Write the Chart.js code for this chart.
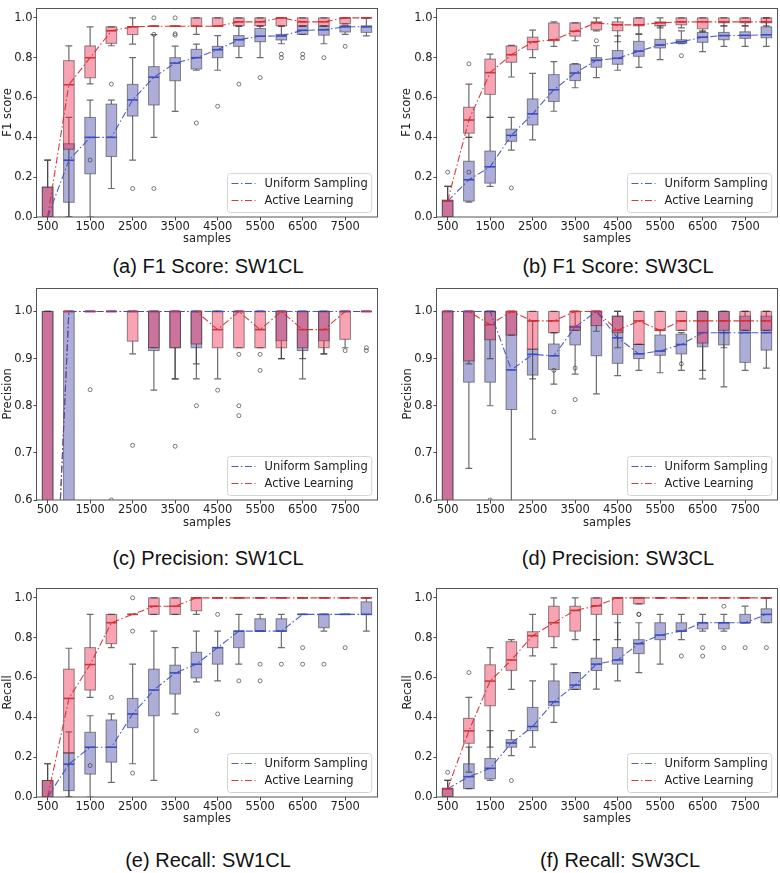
<!DOCTYPE html>
<html>
<head>
<meta charset="utf-8">
<script src="https://cdn.jsdelivr.net/npm/chart.js@4.4.1/dist/chart.umd.min.js"></script>
<style>
  body { margin: 0; background: #fff; width: 780px; height: 873px; position: relative; overflow: hidden; }
  canvas { position: absolute; }
  .caption {
    position: absolute;
    font-family: "Liberation Sans", Arial, sans-serif;
    font-size: 20px;
    line-height: 20px;
    white-space: nowrap;
    transform: translateX(-50%);
    color: #111;
  }
</style>
</head>
<body>
<canvas id="chart-a" width="390" height="250" style="left:0;top:0"></canvas>
<canvas id="chart-b" width="390" height="250" style="left:390px;top:0"></canvas>
<canvas id="chart-c" width="390" height="250" style="left:0;top:280px"></canvas>
<canvas id="chart-d" width="390" height="250" style="left:390px;top:280px"></canvas>
<canvas id="chart-e" width="390" height="250" style="left:0;top:580px"></canvas>
<canvas id="chart-f" width="390" height="250" style="left:390px;top:580px"></canvas>
<script>
// sample sizes (box positions) and labelled ticks
const samples = [500, 1000, 1500, 2000, 2500, 3000, 3500, 4000, 4500, 5000, 5500, 6000, 6500, 7000, 7500, 8000];
const xTickValues = [500, 1500, 2500, 3500, 4500, 5500, 6500, 7500];
const unitTicks = [0, 0.2, 0.4, 0.6, 0.8, 1.0];
const precisionTicks = [0.6, 0.7, 0.8, 0.9, 1.0];

// each row: [lower whisker, q1, median, q3, upper whisker]
// outliers: [sample, value]

// (a) F1 score, SW1CL
const f1Sw1Uniform = [
    [0, 0, 0, 0.15, 0.286], [0, 0.074, 0.285, 0.368, 0.5], [0, 0.217, 0.40, 0.50, 0.587], [0.143, 0.304, 0.40, 0.567, 0.587],
    [0.286, 0.507, 0.588, 0.666, 0.80], [0.40, 0.5625, 0.702, 0.755, 0.916], [0.53, 0.684, 0.773, 0.80, 0.858], [0.737, 0.743, 0.80, 0.842, 0.868],
    [0.737, 0.80, 0.84, 0.857, 0.911], [0.80, 0.857, 0.89, 0.911, 0.958], [0.80, 0.88, 0.908, 0.947, 0.96], [0.87, 0.889, 0.909, 0.917, 0.958],
    [0.917, 0.917, 0.9375, 0.958, 0.96], [0.87, 0.913, 0.94, 0.958, 0.96], [0.917, 0.929, 0.955, 0.96, 0.96], [0.91, 0.927, 0.955, 0.96, 1.0]
];
const f1Sw1UniformOut = [[1500, 0.286], [2000, 0.667], [2500, 0.143], [3000, 0.143], [4000, 0.472], [4500, 0.556], [5000, 0.667],
    [5500, 0.70], [6000, 0.80], [6000, 0.818], [6500, 0.80], [6500, 0.818], [7000, 0.80], [7500, 0.857]];
const f1Sw1Active = [
    [0, 0, 0, 0.15, 0.286], [0, 0.34, 0.664, 0.785, 0.859], [0.668, 0.699, 0.80, 0.859, 0.955], [0.86, 0.872, 0.935, 0.955, 0.955],
    [0.868, 0.916, 0.955, 0.955, 1.0], [0.958, 0.958, 0.958, 0.958, 0.958], [0.958, 0.958, 0.958, 0.958, 0.958], [0.917, 0.958, 0.958, 1.0, 1.0],
    [0.958, 0.958, 0.958, 1.0, 1.0], [0.958, 0.96, 0.98, 1.0, 1.0], [0.958, 0.96, 0.98, 1.0, 1.0], [0.958, 0.96, 1.0, 1.0, 1.0],
    [0.958, 0.96, 0.98, 1.0, 1.0], [0.958, 0.96, 0.98, 1.0, 1.0], [0.97, 0.97, 1.0, 1.0, 1.0], [1, 1, 1, 1, 1]
];
const f1Sw1ActiveOut = [[3000, 1.0], [3000, 0.917], [3500, 1.0], [3500, 0.92], [3500, 0.913]];

// (b) F1 score, SW3CL
const f1Sw3Uniform = [
    [0, 0, 0.08, 0.084, 0.154], [0.075, 0.08, 0.187, 0.28, 0.40], [0.154, 0.17, 0.252, 0.331, 0.50], [0.336, 0.38, 0.41, 0.441, 0.50],
    [0.387, 0.462, 0.518, 0.593, 0.721], [0.531, 0.58, 0.639, 0.715, 0.78], [0.649, 0.685, 0.723, 0.767, 0.77], [0.70, 0.752, 0.787, 0.80, 0.86],
    [0.737, 0.767, 0.797, 0.836, 0.91], [0.751, 0.807, 0.833, 0.882, 0.917], [0.79, 0.849, 0.864, 0.892, 0.96], [0.87, 0.872, 0.88, 0.89, 0.935],
    [0.83, 0.877, 0.903, 0.927, 0.935], [0.857, 0.89, 0.911, 0.927, 0.96], [0.857, 0.897, 0.912, 0.93, 0.96], [0.857, 0.90, 0.915, 0.955, 1.0]
];
const f1Sw3UniformOut = [[500, 0.225], [1000, 0.225], [2000, 0.146], [4000, 0.885], [6000, 0.81]];
const f1Sw3Active = [
    [0, 0, 0.08, 0.084, 0.154], [0.40, 0.421, 0.487, 0.551, 0.667], [0.50, 0.616, 0.725, 0.793, 0.818], [0.703, 0.777, 0.815, 0.859, 0.862],
    [0.80, 0.84, 0.879, 0.903, 0.938], [0.857, 0.885, 0.89, 0.974, 0.98], [0.885, 0.908, 0.933, 0.975, 0.975], [0.935, 0.94, 0.975, 0.98, 1.0],
    [0.88, 0.935, 0.965, 0.98, 1.0], [0.92, 0.96, 0.965, 1.0, 1.0], [0.95, 0.96, 0.975, 0.98, 1.0], [0.95, 0.965, 0.98, 1.0, 1.0],
    [0.93, 0.945, 0.98, 1.0, 1.0], [0.96, 0.975, 0.98, 1.0, 1.0], [0.96, 0.975, 0.98, 1.0, 1.0], [0.96, 0.975, 0.98, 1.0, 1.0]
];
const f1Sw3ActiveOut = [[1000, 0.769]];

// (c) precision, SW1CL
const precSw1Uniform = [
    [0, 0, 0, 1, 1], [0, 0.5, 1, 1, 1], [1, 1, 1, 1, 1], [1, 1, 1, 1, 1],
    [1, 1, 1, 1, 1], [0.833, 0.917, 1, 1, 1], [0.857, 0.923, 1, 1, 1], [0.857, 0.923, 1, 1, 1],
    [1, 1, 1, 1, 1], [1, 1, 1, 1, 1], [1, 1, 1, 1, 1], [0.90, 0.938, 1, 1, 1],
    [0.857, 0.917, 1, 1, 1], [0.91, 0.938, 1, 1, 1], [1, 1, 1, 1, 1], [1, 1, 1, 1, 1]
];
const precSw1UniformOut = [[2000, 0.6], [3500, 0.714], [4000, 0.80]];
const precSw1Active = [
    [0, 0, 0, 1, 1], [1, 1, 1, 1, 1], [1, 1, 1, 1, 1], [1, 1, 1, 1, 1],
    [0.91, 0.937, 1, 1, 1], [0.923, 0.923, 1, 1, 1], [0.857, 0.923, 1, 1, 1], [0.889, 0.931, 1, 1, 1],
    [0.857, 0.923, 0.9615, 1, 1], [0.923, 0.923, 1, 1, 1], [0.923, 0.923, 0.9615, 1, 1], [0.90, 0.923, 1, 1, 1],
    [0.90, 0.923, 0.9615, 1, 1], [0.91, 0.923, 0.9615, 1, 1], [0.923, 0.941, 1, 1, 1], [1, 1, 1, 1, 1]
];
const precSw1ActiveOut = [[1500, 0.834], [2500, 0.716], [4500, 0.833], [5000, 0.909], [5000, 0.80], [5000, 0.779],
    [5500, 0.909], [5500, 0.875], [7500, 0.917], [8000, 0.923], [8000, 0.917]];

// (d) precision, SW3CL
const precSw3Uniform = [
    [0, 0, 1, 1, 1], [0.667, 0.85, 1, 1, 1], [0.80, 0.85, 1, 1, 1], [0.5, 0.792, 0.876, 1, 1],
    [0.729, 0.865, 0.909, 0.92, 0.98], [0.846, 0.877, 0.906, 0.931, 0.955], [0.867, 0.929, 0.967, 0.969, 1.0], [0.825, 0.906, 1, 1, 1],
    [0.864, 0.89, 0.944, 0.99, 1.0], [0.875, 0.90, 0.91, 0.93, 0.93], [0.87, 0.907, 0.916, 0.95, 0.96], [0.875, 0.91, 0.93, 0.952, 0.955],
    [0.857, 0.925, 0.955, 1, 1], [0.84, 0.929, 0.955, 1, 1], [0.875, 0.892, 0.955, 0.99, 1], [0.88, 0.918, 0.955, 0.99, 1]
];
const precSw3UniformOut = [[1500, 0.6], [3000, 0.875], [3000, 0.787], [3500, 0.88], [3500, 0.813], [6000, 0.889]];
const precSw3Active = [
    [0, 0, 1, 1, 1], [0.889, 0.895, 1, 1, 1], [0.90, 0.94, 0.972, 1, 1], [0.95, 0.95, 1, 1, 1],
    [0.857, 0.92, 0.98, 1, 1], [0.955, 0.955, 0.98, 1, 1], [0.96, 0.96, 1, 1, 1], [0.958, 0.97, 1, 1, 1],
    [0.923, 0.955, 0.96, 0.99, 1], [0.93, 0.93, 0.98, 1, 1], [0.96, 0.96, 0.96, 1, 1], [0.96, 0.96, 0.98, 1, 1],
    [0.875, 0.933, 0.98, 1, 1], [0.923, 0.96, 0.98, 1, 1], [0.96, 0.96, 0.98, 1, 1], [0.96, 0.96, 0.98, 1, 1]
];
const precSw3ActiveOut = [];

// (e) recall, SW1CL
const recSw1Uniform = [
    [0, 0, 0, 0.083, 0.167], [0, 0.032, 0.165, 0.223, 0.327], [0, 0.115, 0.25, 0.325, 0.408], [0.073, 0.175, 0.25, 0.387, 0.417],
    [0.167, 0.348, 0.417, 0.495, 0.667], [0.083, 0.408, 0.537, 0.642, 0.833], [0.417, 0.517, 0.623, 0.662, 0.75], [0.578, 0.598, 0.667, 0.727, 0.833],
    [0.583, 0.667, 0.75, 0.75, 0.833], [0.667, 0.75, 0.833, 0.833, 0.917], [0.833, 0.833, 0.833, 0.895, 0.917], [0.75, 0.833, 0.833, 0.895, 0.917],
    [0.917, 0.917, 0.917, 0.917, 0.917], [0.833, 0.85, 0.917, 0.917, 0.917], [0.917, 0.917, 0.917, 0.917, 0.917], [0.833, 0.917, 0.917, 0.98, 1.0]
];
const recSw1UniformOut = [[1500, 0.158], [2000, 0.5], [2500, 0.12], [4000, 0.333], [4500, 0.917], [4500, 0.417], [5000, 0.583],
    [5500, 0.667], [5500, 0.583], [6000, 0.667], [6500, 0.75], [6500, 0.667], [7000, 0.667], [7500, 0.75]];
const recSw1Active = [
    [0, 0, 0, 0.083, 0.167], [0, 0.22, 0.495, 0.642, 0.747], [0.50, 0.537, 0.665, 0.75, 0.917], [0.75, 0.77, 0.875, 0.917, 0.917],
    [0.917, 0.917, 0.917, 0.917, 0.917], [0.917, 0.917, 0.958, 1.0, 1.0], [0.917, 0.917, 0.958, 1.0, 1.0], [0.917, 0.935, 1, 1, 1],
    [1, 1, 1, 1, 1], [1, 1, 1, 1, 1], [1, 1, 1, 1, 1], [1, 1, 1, 1, 1],
    [1, 1, 1, 1, 1], [1, 1, 1, 1, 1], [1, 1, 1, 1, 1], [1, 1, 1, 1, 1]
];
const recSw1ActiveOut = [[2500, 1.0], [2500, 0.833]];

// (f) recall, SW3CL
const recSw3Uniform = [
    [0, 0, 0.042, 0.042, 0.083], [0.042, 0.042, 0.102, 0.167, 0.25], [0.083, 0.091, 0.144, 0.193, 0.333], [0.208, 0.25, 0.271, 0.288, 0.333],
    [0.25, 0.333, 0.354, 0.45, 0.583], [0.375, 0.458, 0.478, 0.583, 0.667], [0.54, 0.54, 0.562, 0.625, 0.625], [0.542, 0.635, 0.667, 0.697, 0.79],
    [0.583, 0.667, 0.688, 0.75, 0.875], [0.625, 0.72, 0.77, 0.79, 0.875], [0.667, 0.79, 0.813, 0.875, 0.917], [0.79, 0.833, 0.833, 0.875, 0.917],
    [0.833, 0.844, 0.875, 0.875, 0.917], [0.833, 0.844, 0.875, 0.875, 0.917], [0.875, 0.875, 0.875, 0.917, 0.958], [0.875, 0.875, 0.917, 0.945, 1.0]
];
const recSw3UniformOut = [[500, 0.124], [2000, 0.083], [5000, 0.917], [6000, 0.708], [6500, 0.75], [6500, 0.708],
    [7000, 0.958], [7000, 0.75], [7500, 0.75], [8000, 0.75]];
const recSw3Active = [
    [0, 0, 0.042, 0.042, 0.083], [0.125, 0.27, 0.332, 0.395, 0.50], [0.25, 0.458, 0.582, 0.664, 0.75], [0.54, 0.636, 0.688, 0.78, 0.79],
    [0.709, 0.75, 0.81, 0.83, 0.917], [0.75, 0.805, 0.875, 0.958, 1.0], [0.79, 0.833, 0.937, 0.958, 1.0], [0.79, 0.917, 0.96, 1.0, 1.0],
    [0.79, 0.917, 1, 1, 1], [0.97, 0.97, 1, 1, 1], [1, 1, 1, 1, 1], [1, 1, 1, 1, 1],
    [1, 1, 1, 1, 1], [1, 1, 1, 1, 1], [1, 1, 1, 1, 1], [1, 1, 1, 1, 1]
];
const recSw3ActiveOut = [[1000, 0.625], [5000, 0.917]];

const BOX_HALF = 125;   // half box width in sample units
const CAP_HALF = 80;
const TICK_FONT = { family: 'DejaVu Sans', size: 11.5 };
const TEXT_COLOR = '#222';

const uniformStyle = {
    label: 'Uniform Sampling',
    line: 'rgba(59, 76, 192, 0.9)',
    fill: 'rgba(50, 50, 160, 0.40)',
    median: '#3b4cc0'
};
const activeStyle = {
    label: 'Active Learning',
    line: 'rgba(214, 39, 40, 0.9)',
    fill: 'rgba(240, 35, 75, 0.42)',
    median: '#d0353a'
};

const panels = [
    { id: 'chart-a', uni: f1Sw1Uniform, uniOut: f1Sw1UniformOut, act: f1Sw1Active, actOut: f1Sw1ActiveOut,
      yLabel: 'F1 score', yMin: 0, yTicks: unitTicks, caption: '(a) F1 Score: SW1CL',
      top: 0, yWidth: 37, padRight: 13, padTop: 4, xHeight: 33, xTitleY: 239, yTitleX: 8.3, capX: 208, capY: 266 },
    { id: 'chart-b', uni: f1Sw3Uniform, uniOut: f1Sw3UniformOut, act: f1Sw3Active, actOut: f1Sw3ActiveOut,
      yLabel: 'F1 score', yMin: 0, yTicks: unitTicks, caption: '(b) F1 Score: SW3CL',
      top: 0, yWidth: 47, padRight: 3, padTop: 4, xHeight: 33, xTitleY: 239, yTitleX: 16.7, capX: 618, capY: 266 },
    { id: 'chart-c', uni: precSw1Uniform, uniOut: precSw1UniformOut, act: precSw1Active, actOut: precSw1ActiveOut,
      yLabel: 'Precision', yMin: 0.6, yTicks: precisionTicks, caption: '(c) Precision: SW1CL',
      top: 280, yWidth: 37, padRight: 13, padTop: 5, xHeight: 30, xTitleY: 523, yTitleX: 8.3, capX: 208, capY: 558 },
    { id: 'chart-d', uni: precSw3Uniform, uniOut: precSw3UniformOut, act: precSw3Active, actOut: precSw3ActiveOut,
      yLabel: 'Precision', yMin: 0.6, yTicks: precisionTicks, caption: '(d) Precision: SW3CL',
      top: 280, yWidth: 47, padRight: 3, padTop: 5, xHeight: 30, xTitleY: 523, yTitleX: 18.3, capX: 618, capY: 558 },
    { id: 'chart-e', uni: recSw1Uniform, uniOut: recSw1UniformOut, act: recSw1Active, actOut: recSw1ActiveOut,
      yLabel: 'Recall', yMin: 0, yTicks: unitTicks, caption: '(e) Recall: SW1CL',
      top: 580, yWidth: 37, padRight: 13, padTop: 5, xHeight: 33, xTitleY: 819, yTitleX: 8.3, capX: 208, capY: 860 },
    { id: 'chart-f', uni: recSw3Uniform, uniOut: recSw3UniformOut, act: recSw3Active, actOut: recSw3ActiveOut,
      yLabel: 'Recall', yMin: 0, yTicks: unitTicks, caption: '(f) Recall: SW3CL',
      top: 580, yWidth: 47, padRight: 3, padTop: 5, xHeight: 33, xTitleY: 819, yTitleX: 18.3, capX: 620, capY: 860 }
];

function drawBoxes(ctx, x, y, ds) {
    ds.boxRows.forEach((row, i) => {
        const [wl, q1, med, q3, wh] = row;
        const s = samples[i];
        const xc = x.getPixelForValue(s);
        const xl = x.getPixelForValue(s - BOX_HALF);
        const xr = x.getPixelForValue(s + BOX_HALF);
        const cl = x.getPixelForValue(s - CAP_HALF);
        const cr = x.getPixelForValue(s + CAP_HALF);

        // whiskers and caps
        ctx.strokeStyle = 'rgba(60, 60, 60, 0.75)';
        ctx.lineWidth = 1.2;
        ctx.beginPath();
        ctx.moveTo(xc, y.getPixelForValue(q1));
        ctx.lineTo(xc, y.getPixelForValue(wl));
        ctx.moveTo(xc, y.getPixelForValue(q3));
        ctx.lineTo(xc, y.getPixelForValue(wh));
        ctx.moveTo(cl, y.getPixelForValue(wl));
        ctx.lineTo(cr, y.getPixelForValue(wl));
        ctx.moveTo(cl, y.getPixelForValue(wh));
        ctx.lineTo(cr, y.getPixelForValue(wh));
        ctx.stroke();

        // box
        const yt = y.getPixelForValue(q3);
        const yb = y.getPixelForValue(q1);
        ctx.fillStyle = ds.boxFill;
        ctx.fillRect(xl, yt, xr - xl, yb - yt);
        ctx.strokeStyle = 'rgba(50, 50, 50, 0.55)';
        ctx.lineWidth = 1;
        ctx.strokeRect(xl, yt, xr - xl, yb - yt);

        // median
        ctx.strokeStyle = ds.medianColor;
        ctx.lineWidth = 1.6;
        ctx.beginPath();
        ctx.moveTo(xl, y.getPixelForValue(med));
        ctx.lineTo(xr, y.getPixelForValue(med));
        ctx.stroke();
    });

    ctx.strokeStyle = 'rgba(50, 50, 50, 0.8)';
    ctx.lineWidth = 0.8;
    ds.outliers.forEach(([s, v]) => {
        ctx.beginPath();
        ctx.arc(x.getPixelForValue(s), y.getPixelForValue(v), 2, 0, Math.PI * 2);
        ctx.stroke();
    });
}

const boxPlotPlugin = {
    id: 'boxPlot',
    beforeDatasetsDraw(chart) {
        const { ctx, chartArea, scales } = chart;
        ctx.save();
        ctx.beginPath();
        ctx.rect(chartArea.left, chartArea.top, chartArea.width, chartArea.height);
        ctx.clip();
        chart.data.datasets.forEach(ds => drawBoxes(ctx, scales.x, scales.y, ds));
        ctx.restore();
    }
};

const frameAndLegendPlugin = {
    id: 'frameAndLegend',
    afterDraw(chart) {
        const { ctx, chartArea } = chart;
        ctx.save();
        ctx.strokeStyle = '#555';
        ctx.lineWidth = 1;
        ctx.strokeRect(Math.round(chartArea.left) - 0.5, Math.round(chartArea.top) + 0.5,
            Math.round(chartArea.width) + 1, Math.round(chartArea.height) - 0.5);

        // legend in the lower right corner of the plot
        const items = chart.data.datasets;
        ctx.font = `${TICK_FONT.size}px "${TICK_FONT.family}"`;
        const textW = Math.max(...items.map(d => ctx.measureText(d.label).width));
        const lineLen = 24, gap = 9, pad = 4, rowH = 17;
        const w = pad + lineLen + gap + textW + pad;
        const h = 10 + rowH * (items.length - 1) + 12;
        const x0 = Math.round(chartArea.right - 6 - w) + 0.5;
        const y0 = Math.round(chartArea.bottom - 5 - h) + 0.5;
        ctx.fillStyle = 'rgba(255, 255, 255, 0.8)';
        ctx.strokeStyle = '#d4d4d4';
        ctx.beginPath();
        ctx.roundRect(x0, y0, w, h, 3);
        ctx.fill();
        ctx.stroke();
        items.forEach((d, i) => {
            const cy = y0 + 10 + i * rowH;
            ctx.strokeStyle = d.borderColor;
            ctx.lineWidth = d.borderWidth;
            ctx.setLineDash(d.borderDash);
            ctx.beginPath();
            ctx.moveTo(x0 + pad, cy);
            ctx.lineTo(x0 + pad + lineLen, cy);
            ctx.stroke();
            ctx.setLineDash([]);
            ctx.fillStyle = TEXT_COLOR;
            ctx.textBaseline = 'middle';
            ctx.fillText(d.label, x0 + pad + lineLen + gap, cy + 0.5);
        });
        ctx.restore();
    }
};

function lineDataset(style, rows, outliers) {
    return {
        label: style.label,
        data: samples.map((s, i) => ({ x: s, y: rows[i][2] })),
        borderColor: style.line,
        borderWidth: 1.1,
        borderDash: [7, 2.5, 1.5, 2.5],
        pointRadius: 0,
        tension: 0,
        fill: false,
        boxRows: rows,
        outliers: outliers,
        boxFill: style.fill,
        medianColor: style.median
    };
}

function makeChart(p) {
    const canvas = document.getElementById(p.id);
    const canvasBottom = p.top + canvas.height;
    return new Chart(canvas.getContext('2d'), {
        type: 'line',
        data: {
            datasets: [
                lineDataset(uniformStyle, p.uni, p.uniOut),
                lineDataset(activeStyle, p.act, p.actOut)
            ]
        },
        options: {
            responsive: false,
            animation: false,
            devicePixelRatio: 1,
            layout: { padding: { left: 0, right: p.padRight, top: p.padTop, bottom: 0 } },
            plugins: { legend: { display: false }, tooltip: { enabled: false } },
            scales: {
                x: {
                    type: 'linear',
                    min: 250,
                    max: 8250,
                    afterBuildTicks: s => { s.ticks = xTickValues.map(v => ({ value: v })); },
                    afterFit: s => { s.height = p.xHeight; },
                    ticks: { autoSkip: false, maxRotation: 0, padding: 0, font: TICK_FONT, color: TEXT_COLOR,
                             callback: v => String(v) },
                    grid: { drawOnChartArea: false, drawTicks: true, tickLength: 3.5, color: '#444' },
                    border: { display: false },
                    title: { display: true, text: 'samples', font: TICK_FONT, color: TEXT_COLOR,
                             padding: { top: 0, bottom: canvasBottom - p.xTitleY - 6.9 } }
                },
                y: {
                    min: p.yMin,
                    max: 1.05,
                    afterBuildTicks: s => { s.ticks = p.yTicks.map(v => ({ value: v })); },
                    afterFit: s => { s.width = p.yWidth; },
                    ticks: { padding: 1, font: TICK_FONT, color: TEXT_COLOR, callback: v => v.toFixed(1) },
                    grid: { drawOnChartArea: false, drawTicks: true, tickLength: 3.5, color: '#444' },
                    border: { display: false },
                    title: { display: true, text: p.yLabel, font: TICK_FONT, color: TEXT_COLOR,
                             padding: { top: p.yTitleX - 6.9, bottom: 0 } }
                }
            }
        },
        plugins: [boxPlotPlugin, frameAndLegendPlugin]
    });
}

function addCaption(p) {
    const div = document.createElement('div');
    div.className = 'caption';
    div.textContent = p.caption;
    div.style.left = p.capX + 'px';
    div.style.top = (p.capY - 10) + 'px';
    document.body.appendChild(div);
}

function init() {
    panels.forEach(p => {
        makeChart(p);
        addCaption(p);
    });
}

document.addEventListener('DOMContentLoaded', init);
</script>
</body>
</html>
